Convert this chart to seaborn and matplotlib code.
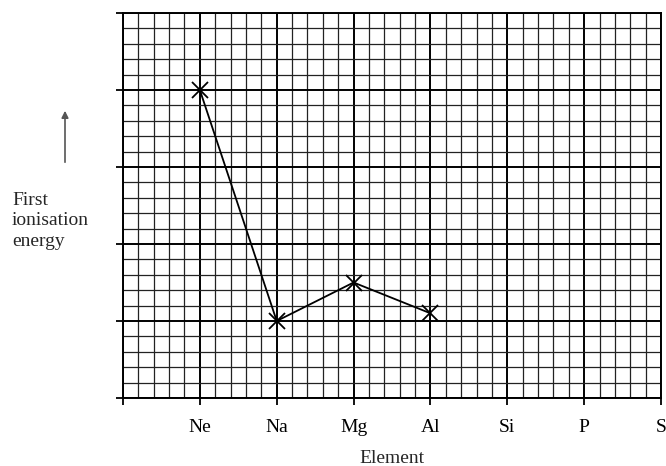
import matplotlib
matplotlib.use("Agg")
import matplotlib.pyplot as plt
import seaborn as sns
import numpy as np

# data (arbitrary units, one big square = 1)
elements = ["Ne", "Na", "Mg", "Al", "Si", "P", "S"]
plotted = ["Ne", "Na", "Mg", "Al"]
energy = [4.0, 1.0, 1.5, 1.1]

sns.set_style("white")
plt.rcParams['font.family'] = ['Liberation Serif', 'DejaVu Serif']

fig = plt.figure(figsize=(6.66, 4.66), dpi=100)
ax = fig.add_axes([123 / 666, 1 - 398 / 466, 538 / 666, 385 / 466])

xpos = [elements.index(e) for e in plotted]
sns.lineplot(x=xpos, y=energy, ax=ax, color="black", lw=1.3,
             marker="x", markersize=12, markeredgewidth=1.3,
             markeredgecolor="black", zorder=5)

ax.set_xlim(-1, 6)
ax.set_ylim(0, 5)

# graph paper grid
ax.set_xticks(np.arange(-1, 6.01, 1))
ax.set_xticklabels([""] + elements)
ax.set_yticks(np.arange(0, 5.01, 1))
ax.set_yticklabels([])
ax.set_xticks(np.arange(-1, 6.01, 0.2), minor=True)
ax.set_yticks(np.arange(0, 5.01, 0.2), minor=True)
ax.grid(which="minor", color="#222222", lw=0.9)
ax.grid(which="major", color="black", lw=1.4)
ax.set_axisbelow(True)
ax.tick_params(which="major", direction="out", length=5, width=1.3,
               colors="black", labelsize=14, pad=10, bottom=True, left=True)
ax.tick_params(which="minor", length=0)
for s in ax.spines.values():
    s.set_color("black")
    s.set_linewidth(1.4)

ax.set_xlabel("Element", fontsize=14, labelpad=10)
ax.set_ylabel("")

fig.text(12 / 666, 1 - 221 / 466, "First\nionisation\nenergy", fontsize=14,
         ha="left", va="center", linespacing=1.3)
fig.add_artist(matplotlib.patches.FancyArrowPatch(
    (65 / 666, 1 - 165 / 466), (65 / 666, 1 - 108 / 466),
    transform=fig.transFigure, arrowstyle="-|>", mutation_scale=10,
    color="#555555", lw=1.2))

fig.savefig("out.png", dpi=100)
